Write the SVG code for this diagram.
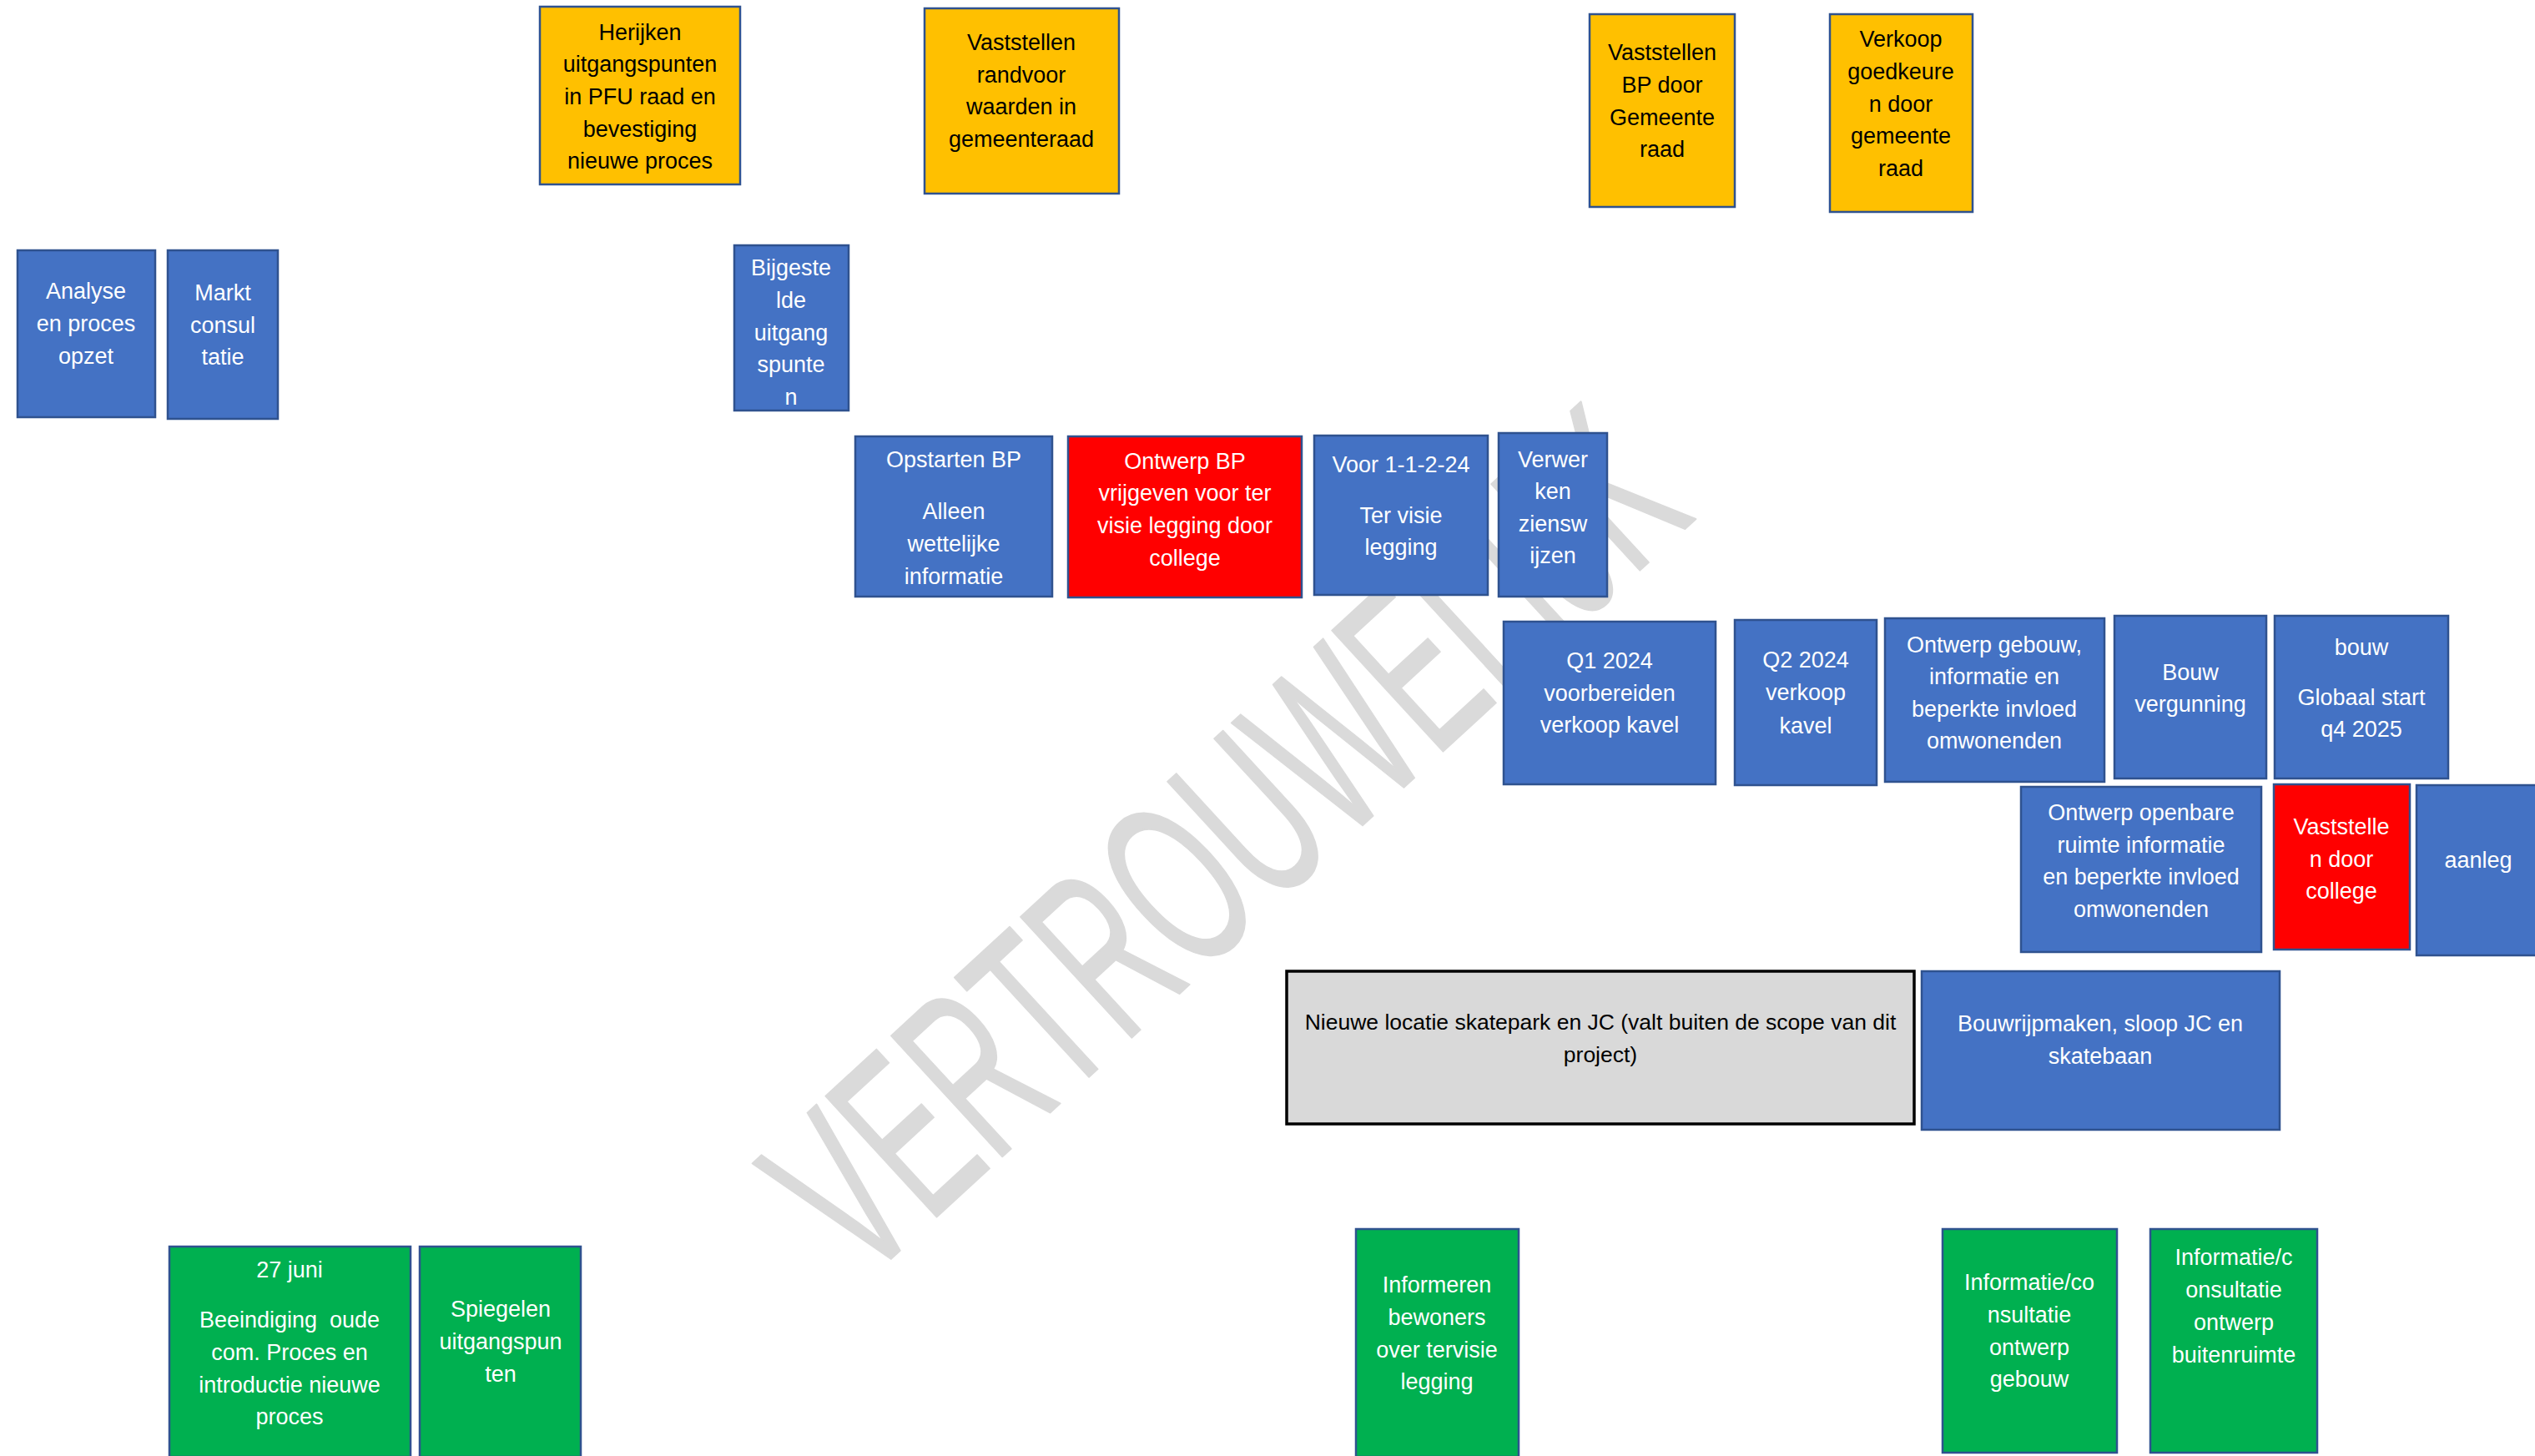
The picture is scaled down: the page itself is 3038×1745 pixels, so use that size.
<svg xmlns="http://www.w3.org/2000/svg" width="3038" height="1745" viewBox="0 0 3038 1745">
  <style>
    .box { stroke: #2F528F; stroke-width: 2.5; }
    .blue { fill: #4472C4; }
    .orange { fill: #FFC000; }
    .red { fill: #FF0000; }
    .green { fill: #00B050; }
    .grey { fill: #D9D9D9; stroke: #000000; stroke-width: 3.5; }
    text { font-family: "Liberation Sans", Arial, sans-serif; font-size: 27px; text-anchor: middle; }
    .lt { fill: #FFFFFF; }
    .dk { fill: #000000; }
    .wm { font-size: 286px; text-anchor: start; fill: #DADADA; stroke: #DADADA; stroke-width: 2; stroke-linejoin: round; }
  </style>

  <rect width="3038" height="1745" fill="#FFFFFF"/>

  <!-- diagonal watermark, behind the process blocks -->
  <g id="watermark">
    <text class="wm" transform="translate(1034,1540) rotate(-42.6) scale(0.56,1)">VERTROUWELIJK</text>
  </g>

  <!-- council decisions (orange) -->
  <g id="herijken">
    <rect class="box orange" x="647" y="8" width="240" height="213"/>
    <text class="dk"><tspan x="767" y="48">Herijken</tspan><tspan x="767" y="86">uitgangspunten</tspan><tspan x="767" y="125">in PFU raad en</tspan><tspan x="767" y="164">bevestiging</tspan><tspan x="767" y="202">nieuwe proces</tspan></text>
  </g>
  <g id="vaststellen-randvoorwaarden">
    <rect class="box orange" x="1108" y="10" width="233" height="222"/>
    <text class="dk"><tspan x="1224" y="60">Vaststellen</tspan><tspan x="1224" y="99">randvoor</tspan><tspan x="1224" y="137">waarden in</tspan><tspan x="1224" y="176">gemeenteraad</tspan></text>
  </g>
  <g id="vaststellen-bp-raad">
    <rect class="box orange" x="1905" y="17" width="174" height="231"/>
    <text class="dk"><tspan x="1992" y="72">Vaststellen</tspan><tspan x="1992" y="111">BP door</tspan><tspan x="1992" y="150">Gemeente</tspan><tspan x="1992" y="188">raad</tspan></text>
  </g>
  <g id="verkoop-goedkeuren">
    <rect class="box orange" x="2193" y="17" width="171" height="237"/>
    <text class="dk"><tspan x="2278" y="56">Verkoop</tspan><tspan x="2278" y="95">goedkeure</tspan><tspan x="2278" y="134">n door</tspan><tspan x="2278" y="172">gemeente</tspan><tspan x="2278" y="211">raad</tspan></text>
  </g>

  <!-- preparation -->
  <g id="analyse">
    <rect class="box blue" x="21" y="300" width="165" height="200"/>
    <text class="lt"><tspan x="103" y="358">Analyse</tspan><tspan x="103" y="397">en proces</tspan><tspan x="103" y="436">opzet</tspan></text>
  </g>
  <g id="marktconsultatie">
    <rect class="box blue" x="201" y="300" width="132" height="202"/>
    <text class="lt"><tspan x="267" y="360">Markt</tspan><tspan x="267" y="399">consul</tspan><tspan x="267" y="437">tatie</tspan></text>
  </g>
  <g id="bijgesteld">
    <rect class="box blue" x="880" y="294" width="137" height="198"/>
    <text class="lt"><tspan x="948" y="330">Bijgeste</tspan><tspan x="948" y="369">lde</tspan><tspan x="948" y="408">uitgang</tspan><tspan x="948" y="446">spunte</tspan><tspan x="948" y="485">n</tspan></text>
  </g>

  <!-- bestemmingsplan track -->
  <g id="opstarten-bp">
    <rect class="box blue" x="1025" y="523" width="236" height="192"/>
    <text class="lt"><tspan x="1143" y="560">Opstarten BP</tspan><tspan x="1143" y="622">Alleen</tspan><tspan x="1143" y="661">wettelijke</tspan><tspan x="1143" y="700">informatie</tspan></text>
  </g>
  <g id="ontwerp-bp">
    <rect class="box red" x="1280" y="523" width="280" height="193"/>
    <text class="lt"><tspan x="1420" y="562">Ontwerp BP</tspan><tspan x="1420" y="600">vrijgeven voor ter</tspan><tspan x="1420" y="639">visie legging door</tspan><tspan x="1420" y="678">college</tspan></text>
  </g>
  <g id="ter-visie">
    <rect class="box blue" x="1575" y="522" width="208" height="191"/>
    <text class="lt"><tspan x="1679" y="566">Voor 1-1-2-24</tspan><tspan x="1679" y="627">Ter visie</tspan><tspan x="1679" y="665">legging</tspan></text>
  </g>
  <g id="zienswijzen">
    <rect class="box blue" x="1796" y="519" width="130" height="196"/>
    <text class="lt"><tspan x="1861" y="560">Verwer</tspan><tspan x="1861" y="598">ken</tspan><tspan x="1861" y="637">ziensw</tspan><tspan x="1861" y="675">ijzen</tspan></text>
  </g>

  <!-- sale and building -->
  <g id="q1-2024">
    <rect class="box blue" x="1802" y="745" width="254" height="195"/>
    <text class="lt"><tspan x="1929" y="801">Q1 2024</tspan><tspan x="1929" y="840">voorbereiden</tspan><tspan x="1929" y="878">verkoop kavel</tspan></text>
  </g>
  <g id="q2-2024">
    <rect class="box blue" x="2079" y="743" width="170" height="198"/>
    <text class="lt"><tspan x="2164" y="800">Q2 2024</tspan><tspan x="2164" y="839">verkoop</tspan><tspan x="2164" y="879">kavel</tspan></text>
  </g>
  <g id="ontwerp-gebouw">
    <rect class="box blue" x="2259" y="741" width="263" height="196"/>
    <text class="lt"><tspan x="2390" y="782">Ontwerp gebouw,</tspan><tspan x="2390" y="820">informatie en</tspan><tspan x="2390" y="859">beperkte invloed</tspan><tspan x="2390" y="897">omwonenden</tspan></text>
  </g>
  <g id="bouwvergunning">
    <rect class="box blue" x="2534" y="738" width="182" height="195"/>
    <text class="lt"><tspan x="2625" y="815">Bouw</tspan><tspan x="2625" y="853">vergunning</tspan></text>
  </g>
  <g id="bouw">
    <rect class="box blue" x="2726" y="738" width="208" height="195"/>
    <text class="lt"><tspan x="2830" y="785">bouw</tspan><tspan x="2830" y="845">Globaal start</tspan><tspan x="2830" y="883">q4 2025</tspan></text>
  </g>

  <!-- public space -->
  <g id="ontwerp-openbare-ruimte">
    <rect class="box blue" x="2422" y="943" width="288" height="198"/>
    <text class="lt"><tspan x="2566" y="983">Ontwerp openbare</tspan><tspan x="2566" y="1022">ruimte informatie</tspan><tspan x="2566" y="1060">en beperkte invloed</tspan><tspan x="2566" y="1099">omwonenden</tspan></text>
  </g>
  <g id="vaststellen-college">
    <rect class="box red" x="2725" y="940" width="163" height="198"/>
    <text class="lt"><tspan x="2806" y="1000">Vaststelle</tspan><tspan x="2806" y="1039">n door</tspan><tspan x="2806" y="1077">college</tspan></text>
  </g>
  <g id="aanleg">
    <rect class="box blue" x="2896" y="941" width="150" height="204"/>
    <text class="lt"><tspan x="2970" y="1040">aanleg</tspan></text>
  </g>

  <!-- site clearance -->
  <g id="nieuwe-locatie">
    <rect class="grey" x="1542" y="1164" width="752" height="183"/>
    <text class="dk" style="font-size:26.5px"><tspan x="1918" y="1234">Nieuwe locatie skatepark en JC (valt buiten de scope van dit</tspan><tspan x="1918" y="1273">project)</tspan></text>
  </g>
  <g id="bouwrijpmaken">
    <rect class="box blue" x="2303" y="1164" width="429" height="190"/>
    <text class="lt"><tspan x="2517" y="1236">Bouwrijpmaken, sloop JC en</tspan><tspan x="2517" y="1275">skatebaan</tspan></text>
  </g>

  <!-- communication (green) -->
  <g id="beeindiging">
    <rect class="box green" x="203" y="1494" width="289" height="252"/>
    <text class="lt" xml:space="preserve"><tspan x="347" y="1531">27 juni</tspan><tspan x="347" y="1591">Beeindiging  oude</tspan><tspan x="347" y="1630">com. Proces en</tspan><tspan x="347" y="1669">introductie nieuwe</tspan><tspan x="347" y="1707">proces</tspan></text>
  </g>
  <g id="spiegelen">
    <rect class="box green" x="503" y="1494" width="193" height="252"/>
    <text class="lt"><tspan x="600" y="1578">Spiegelen</tspan><tspan x="600" y="1617">uitgangspun</tspan><tspan x="600" y="1656">ten</tspan></text>
  </g>
  <g id="informeren-bewoners">
    <rect class="box green" x="1625" y="1473" width="195" height="273"/>
    <text class="lt"><tspan x="1722" y="1549">Informeren</tspan><tspan x="1722" y="1588">bewoners</tspan><tspan x="1722" y="1627">over tervisie</tspan><tspan x="1722" y="1665">legging</tspan></text>
  </g>
  <g id="consultatie-gebouw">
    <rect class="box green" x="2328" y="1473" width="209" height="268"/>
    <text class="lt"><tspan x="2432" y="1546">Informatie/co</tspan><tspan x="2432" y="1585">nsultatie</tspan><tspan x="2432" y="1624">ontwerp</tspan><tspan x="2432" y="1662">gebouw</tspan></text>
  </g>
  <g id="consultatie-buitenruimte">
    <rect class="box green" x="2577" y="1473" width="200" height="268"/>
    <text class="lt"><tspan x="2677" y="1516">Informatie/c</tspan><tspan x="2677" y="1555">onsultatie</tspan><tspan x="2677" y="1594">ontwerp</tspan><tspan x="2677" y="1633">buitenruimte</tspan></text>
  </g>

  <!-- the planning has no connecting lines -->
  <g id="connectors"/>
</svg>
